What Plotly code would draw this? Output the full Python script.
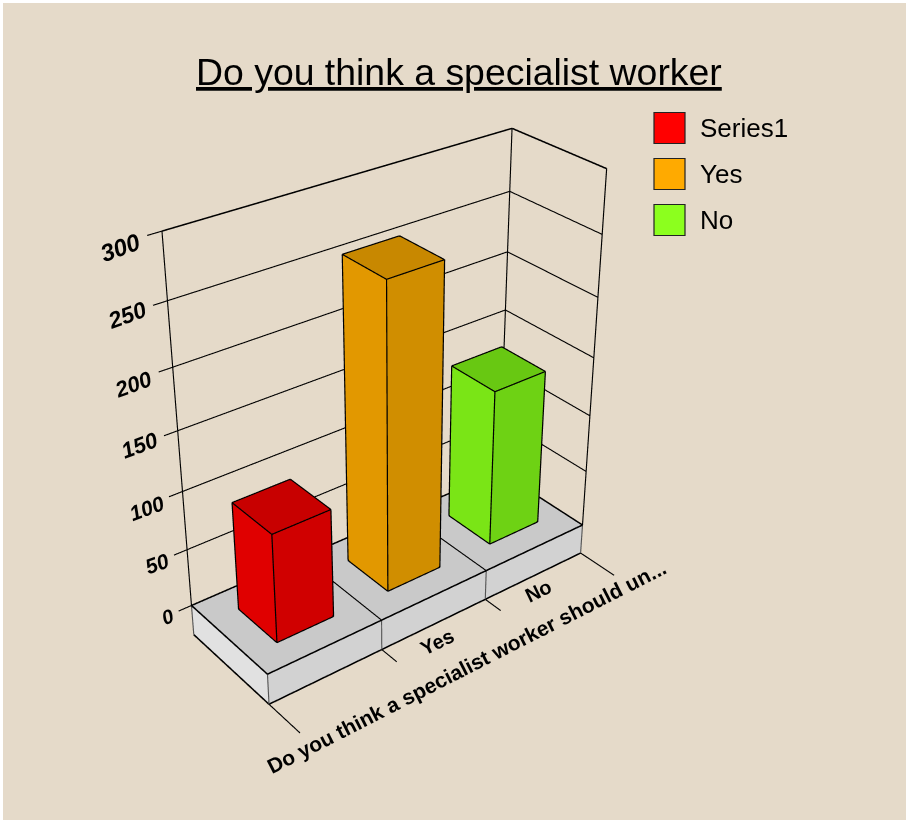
import numpy as np
import plotly.graph_objects as go

W, H = 906, 820
categories = ["Do you think a specialist worker should un...", "Yes", "No"]
series_names = ["Series1", "Yes", "No"]
values = [93.5, 257, 136]
ticks = [0, 50, 100, 150, 200, 250, 300]
face_colors = ["#C9C9C9", "#D2D2D2", "#E1E1E1"]
colors = [("#FF0000", "#E00000", "#D00000", "#C80000"),
          ("#FFAA00", "#E29800", "#D08E00", "#C88800"),
          ("#8CFF1E", "#7AE516", "#6ED214", "#68C812")]

# Floor slab depth below zero, on the value axis
T = -27
XR, YR, ZR = (-0.15, 3.05), (-0.42, 1.05), (-32, 305)

# Camera that reproduces the reference's perspective. Plotly's field of view is fixed at 45 degrees,
# so the scene viewport is tall and the page is shifted up by OY to keep the picture in the window.
F = 1660.0
CX, CY = 386.0, 416.0
OY, FH = 273, 1378
_base_xr, _base_yr, _base_zr = (-0.15, 3), (-0.4, 1), (-26, 300)
_base_aspect = np.array([1, 0.4444, 1.03709])
_eye0 = np.array([-1.98679, -2.5372, 1.91585])
_center0 = np.array([-0.02398, 0.02952, 0.01466])
UP = np.array([0.31165, 0.40007, 0.86187])

MID = np.array([np.mean(XR), np.mean(YR), np.mean(ZR)])
SPAN = np.array([XR[1] - XR[0], YR[1] - YR[0], ZR[1] - ZR[0]])
_mid0 = np.array([np.mean(_base_xr), np.mean(_base_yr), np.mean(_base_zr)])
_span0 = np.array([_base_xr[1] - _base_xr[0], _base_yr[1] - _base_yr[0], _base_zr[1] - _base_zr[0]])
ASPECT = _base_aspect * SPAN / _span0
_shift = (_mid0 - MID) / _span0 * _base_aspect
EYE = _eye0 + _shift
CENTER = _center0 + _shift


def quad_mesh(quads, cols):
    xs, ys, zz, I, J, K, fc = [], [], [], [], [], [], []
    for q, col in zip(quads, cols):
        n = len(xs)
        for a in q:
            xs.append(a[0]); ys.append(a[1]); zz.append(a[2])
        I += [n, n]; J += [n + 1, n + 2]; K += [n + 2, n + 3]; fc += [col, col]
    return go.Mesh3d(x=xs, y=ys, z=zz, i=I, j=J, k=K, facecolor=fc, flatshading=True, hoverinfo="skip",
                     showlegend=False, lighting=dict(ambient=1, diffuse=0, specular=0, fresnel=0, roughness=1))


def to_box(X):
    return (np.array(X, float) - MID) / SPAN * ASPECT


def to_data(B):
    return B / ASPECT * SPAN + MID


def lines(segs, width=1.3, color="#000000"):
    # each edge becomes a thin camera-facing ribbon, because long 3D lines fade in the WebGL renderer
    quads = []
    for a, b in segs:
        A, B = to_box(a), to_box(b)
        d = (B - A) / np.linalg.norm(B - A)
        q = []
        for P, sgn in ((A, 1), (B, 1), (B, -1), (A, -1)):
            vw = EYE - P
            dist = np.linalg.norm(vw)
            vw = vw / dist
            n = np.cross(d, vw)
            n = n / np.linalg.norm(n)
            h = 0.5 * width * dist / F
            q.append(tuple(to_data(P + sgn * h * n + vw * 0.006)))
        quads.append(q)
    return quad_mesh(quads, [color] * len(quads))


data = [quad_mesh([[(0, 0, 0), (3, 0, 0), (3, 1, 0), (0, 1, 0)],
                   [(0, 0, 0), (3, 0, 0), (3, 0, T), (0, 0, T)],
                   [(0, 0, 0), (0, 1, 0), (0, 1, T), (0, 0, T)]], face_colors)]
grid = []
for z in ticks[1:-1]:
    grid += [((0, 1, z), (3, 1, z)), ((3, 1, z), (3, 0, z))]
for z in ticks:
    grid.append(((-0.11, 1, z), (0, 1, z)))
grid += [((0, 1, 0), (0, 1, 300)), ((3, 1, 0), (3, 1, 300)), ((3, 0, 0), (3, 0, 300))]
grid += [((1, 0, 0), (1, 1, 0)), ((2, 0, 0), (2, 1, 0))]
for i, tick_len in enumerate([0.38, 0.18, 0.18, 0.38]):
    grid.append(((i, 0, T), (i, -tick_len, T)))
data.append(lines(grid, 1.1))
data.append(lines([((0, 1, T), (0, 1, 0)), ((0, 0, T), (0, 0, 0)), ((1, 0, T), (1, 0, 0)),
                   ((2, 0, T), (2, 0, 0)), ((3, 0, T), (3, 0, 0))], 1.1, "#555555"))
data.append(lines([((0, 1, 300), (3, 1, 300)), ((3, 1, 300), (3, 0, 300)), ((0, 0, 0), (3, 0, 0)),
                   ((0, 0, T), (3, 0, T)), ((0, 0, 0), (0, 1, 0)), ((0, 0, T), (0, 1, T)),
                   ((0, 1, 0), (3, 1, 0)), ((3, 0, 0), (3, 1, 0))], 1.5))
for i, v in enumerate(values):
    x0, x1 = i + .25, i + .75
    y0, y1 = .25, .75
    col = colors[i]
    data.append(quad_mesh([[(x0, y0, 0), (x0, y1, 0), (x0, y1, v), (x0, y0, v)],
                           [(x0, y0, 0), (x1, y0, 0), (x1, y0, v), (x0, y0, v)],
                           [(x0, y0, v), (x1, y0, v), (x1, y1, v), (x0, y1, v)],
                           [(x1, y0, 0), (x1, y1, 0), (x1, y1, v), (x1, y0, v)],
                           [(x0, y1, 0), (x1, y1, 0), (x1, y1, v), (x0, y1, v)]],
                          [col[1], col[2], col[3], col[2], col[1]]))
    c4 = [(x0, y0), (x1, y0), (x1, y1), (x0, y1)]
    s = []
    for k in range(4):
        a = c4[k]; b = c4[(k + 1) % 4]
        s.append(((a[0], a[1], v), (b[0], b[1], v)))
        s.append(((a[0], a[1], 0), (b[0], b[1], 0)))
        s.append(((a[0], a[1], 0), (a[0], a[1], v)))
    data.append(lines(s, 1.2))
fig = go.Figure(data)

hv = 2 * F * np.tan(np.pi / 8)
cyf = CY + OY
yd = [1 - (cyf + hv / 2) / FH, 1 - (cyf - hv / 2) / FH]
hw = min(CX, W - CX)
xd = [(CX - hw) / W, (CX + hw) / W]


def px(x):
    return x / W


def py(y):
    return 1 - (y + OY) / FH


FONT = "Liberation Sans, Arial, sans-serif"
ann = []


def label(text, x, y, size, angle=0, bold=False, italic=False, xanchor="center"):
    t = text
    if bold:
        t = f"<b>{t}</b>"
    if italic:
        t = f"<i>{t}</i>"
    ann.append(dict(text=t, xref="paper", yref="paper", x=px(x), y=py(y), xanchor=xanchor, yanchor="middle",
                    showarrow=False, textangle=angle, font=dict(family=FONT, size=size, color="#000")))


label("<u>Do you think a specialist worker</u>", 459, 72, 37.4)
tick_pos = [(167, 617), (157, 563), (146, 508), (139, 445), (133, 384), (127, 315), (120, 247)]
for tk, pp, sz in zip(ticks, tick_pos, [20, 21, 21, 22, 22, 23, 24]):
    label(str(tk), pp[0], pp[1], sz, angle=-20, bold=True, italic=True)
for name, pp, sz, ang in zip(categories, [(467, 666), (437, 642), (538, 591)], [21, 20, 20], [-27, -26, -26]):
    label(name, pp[0], pp[1], sz, angle=ang, bold=True)
shapes = [dict(type="rect", xref="paper", yref="paper", x0=px(3), x1=1, y0=py(820), y1=py(3),
               fillcolor="#E5DAC9", line_width=0, layer="below")]
for i, name in enumerate(series_names):
    yc = 128 + 46 * i
    shapes.append(dict(type="rect", xref="paper", yref="paper", x0=px(654), x1=px(685), y0=py(yc + 15.5),
                       y1=py(yc - 15.5), fillcolor=colors[i][0], line=dict(color="#222", width=1.2)))
    label(name, 698, yc, 26, xanchor="left")


def v3(a):
    return dict(x=float(a[0]), y=float(a[1]), z=float(a[2]))


fig.update_layout(width=W, height=FH, margin=dict(l=0, r=0, t=0, b=0), paper_bgcolor="white",
                  scene=dict(domain=dict(x=xd, y=yd), aspectmode="manual", aspectratio=v3(ASPECT),
                             xaxis=dict(visible=False, range=list(XR)), yaxis=dict(visible=False, range=list(YR)),
                             zaxis=dict(visible=False, range=list(ZR)),
                             camera=dict(eye=v3(EYE), center=v3(CENTER), up=v3(UP), projection=dict(type="perspective")),
                             bgcolor="rgba(0,0,0,0)"),
                  shapes=shapes, annotations=ann)
fig.write_html("out.html", config=dict(displayModeBar=False),
               post_script=f"document.body.style.margin='0';document.body.style.height='820px';document.body.style.overflow='hidden';document.documentElement.style.height='820px';document.documentElement.style.overflow='hidden';document.getElementsByClassName('plotly-graph-div')[0].style.marginTop='-{OY}px';")
